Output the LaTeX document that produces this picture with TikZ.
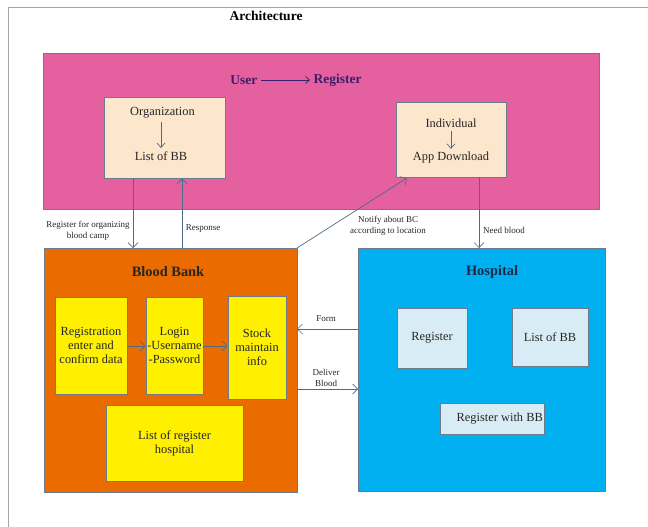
\documentclass[tikz,border=0pt]{standalone}
\usepackage{fontspec}
\setmainfont{Liberation Serif}
\usetikzlibrary{arrows.meta}
\definecolor{pinkbg}{HTML}{E5609E}
\definecolor{orangebg}{HTML}{EA6C00}
\definecolor{bluebg}{HTML}{00B0F0}
\definecolor{beige}{HTML}{FCE6CC}
\definecolor{yellowbx}{HTML}{FFF000}
\definecolor{lightblue}{HTML}{D8ECF6}
\definecolor{edge}{HTML}{6E7B8E}
\definecolor{conn}{HTML}{4F6A88}
\definecolor{purpletxt}{HTML}{3A1F6E}
\definecolor{navytxt}{HTML}{1A2A4A}
\tikzset{
  area/.style={draw=edge, line width=0.8pt},
  txt/.style={font=\fontsize{12.4}{14}\selectfont, text=black!85},
  inbox/.style={draw=edge, line width=0.6pt, align=center, txt},
  conn/.style={draw=conn, line width=0.7pt, -{Straight Barb[length=5pt,width=10pt]}},
  small/.style={conn, -{Straight Barb[length=4.5pt,width=8pt]}},
  lbl/.style={font=\fontsize{9}{10.5}\selectfont, align=center, text=black!85},
  title/.style={font=\bfseries\fontsize{14.4}{16}\selectfont}
}
\begin{document}
\begin{tikzpicture}[x=1pt,y=-1pt]
\useasboundingbox (0,0) rectangle (648,527);
% page frame lines
\draw[gray!70, line width=0.8pt] (8,527) -- (8,7) -- (648,7);
\node[font=\bfseries\fontsize{13.5}{16}\selectfont] (ttl) at (266,16) {Architecture};

% areas
\path[area, fill=pinkbg] (43,53) rectangle (599,209);
\path[area, fill=orangebg] (44,248) rectangle (297,492);
\path[area, fill=bluebg] (358,248) rectangle (605,491);
\coordinate (bbNE) at (297,248);

% User -> Register
\node[font=\bfseries\fontsize{13.5}{16}\selectfont, text=purpletxt, anchor=east] (user) at (261,80) {User};
\node[font=\bfseries\fontsize{13.5}{16}\selectfont, text=purpletxt, anchor=west] (reg) at (310,80) {Register};
\draw[purpletxt, line width=0.7pt, -{Straight Barb[length=4pt,width=7pt]}] (user.east) -- (reg.west);

% Organization box
\node[inbox, fill=beige, minimum width=121, minimum height=81] (org) at (164.5,137.5) {};
\node[txt] (orgt) at (162.5,113) {Organization};
\node[txt] (orgl) at (161,156) {List of BB};
\draw[small] (orgt.south -| orgl) -- (orgl.north);

% Individual box
\node[inbox, fill=beige, minimum width=110, minimum height=75] (ind) at (451,139.5) {};
\node[txt] (indt) at (451,123) {Individual};
\node[txt] (indl) at (451,158) {App Download};
\draw[small] (indt.south) -- (indl.north);

% Blood bank contents
\node[title, text=black!85] (bbt) at (168,272) {Blood Bank};
\node[inbox, fill=yellowbx, minimum width=72, minimum height=97, inner sep=0pt] (regi) at (91,345.5) {Registration\\enter and\\confirm data};
\node[inbox, fill=yellowbx, minimum width=57, minimum height=97, inner sep=0pt] (login) at (174.5,345.5) {Login\\-Username\\-Password};
\node[inbox, fill=yellowbx, minimum width=58, minimum height=103, inner sep=0pt] (stock) at (257,347.5) {Stock\\maintain\\info};
\node[inbox, fill=yellowbx, minimum width=137, minimum height=76] (lrh) at (174.5,443) {List of register\\hospital};
\draw[conn] (regi.east |- 0,346) -- (login.west |- 0,346);
\draw[conn] (login.east |- 0,346) -- (stock.west |- 0,346);

% Hospital contents
\node[title, text=navytxt] (hpt) at (492,272) {Hospital};
\node[inbox, fill=lightblue, minimum width=70, minimum height=60] (hreg) at (432,338) {Register};
\node[inbox, fill=lightblue, minimum width=76, minimum height=58] (hlist) at (550,337) {List of BB};
\node[draw=edge, line width=0.6pt, fill=lightblue, minimum width=104, minimum height=31] (hrbb) at (492,418.5) {};
\node[txt, anchor=east, inner sep=0pt] (hrbbt) at (543,418.5) {Register with BB};

% connectors between areas
\coordinate (bbTop1) at (133,248);
\coordinate (bbTop2) at (182,248);
\coordinate (hTop) at (479,248);
\draw[conn] (org.south -| bbTop1) -- (bbTop1);
\draw[conn] (bbTop2) -- (org.south -| bbTop2);
\draw[conn] (ind.south -| hTop) -- (hTop);
\draw[conn] (bbNE) -- (407,178) coordinate (indIn);
\coordinate (hForm) at (358,329);
\coordinate (bbForm) at (297,329);
\coordinate (bbDel) at (297,389);
\coordinate (hDel) at (358,389);
\draw[conn] (hForm) -- (bbForm);
\draw[conn] (bbDel) -- (hDel);

% labels
\node[lbl] (l1) at (88,231) {Register for organizing\\blood camp};
\node[lbl] (l2) at (203,229) {Response};
\node[lbl] (l3) at (388,226) {Notify about BC\\according to location};
\node[lbl] (l4) at (504,230) {Need blood};
\node[lbl] (l5) at (326,319) {Form};
\node[lbl] (l6) at (326,378) {Deliver\\Blood};
\end{tikzpicture}
\end{document}
